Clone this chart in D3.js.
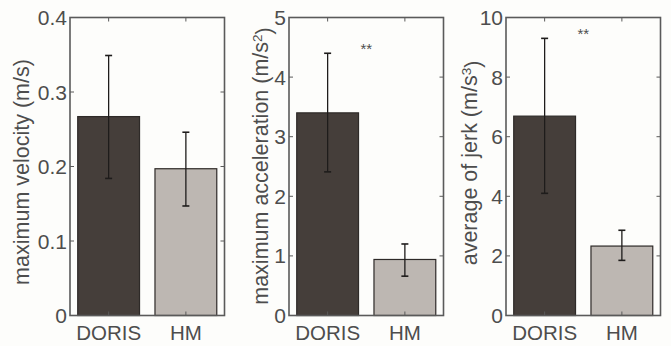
<!DOCTYPE html>
<html>
<head>
<meta charset="utf-8">
<script src="https://cdn.jsdelivr.net/npm/d3@7"></script>
<style>
  body { margin: 0; background: #fdfdfb; }
  svg { display: block; font-family: "Liberation Sans", Arial, sans-serif; }
</style>
</head>
<body>
<div id="plotdiv"></div>
<script>
// data
const groups = ["DORIS", "HM"];
const velocity = [0.267, 0.197];
const velocityErrLo = [0.184, 0.147];
const velocityErrHi = [0.349, 0.246];
const accel = [3.40, 0.94];
const accelErrLo = [2.41, 0.66];
const accelErrHi = [4.40, 1.20];
const jerk = [6.69, 2.33];
const jerkErrLo = [4.10, 1.85];
const jerkErrHi = [9.30, 2.86];
const velTicks = [0, 0.1, 0.2, 0.3, 0.4];
const accTicks = [0, 1, 2, 3, 4, 5];
const jerkTicks = [0, 2, 4, 6, 8, 10];

const barColors = ["#453e3a", "#bdb7b2"];
const axisColor = "#5a5a5a";
const textColor = "#4d4d4d";

const svg = d3.select("#plotdiv")
  .append("svg")
  .attr("width", 671)
  .attr("height", 346);

svg.append("rect").attr("width", 671).attr("height", 346).attr("fill", "#fdfdfb");

const panels = [
  {x0: 70, vals: velocity, lo: velocityErrLo, hi: velocityErrHi, ticks: velTicks, max: 0.4,
   fmt: d => d === 0 ? "0" : d3.format(".1f")(d), label: ["maximum velocity (m/s)", null, null],
   labelX: 21, labelY: 172, stars: null},
  {x0: 289, vals: accel, lo: accelErrLo, hi: accelErrHi, ticks: accTicks, max: 5,
   fmt: d => String(d), label: ["maximum acceleration (m/s", "2", ")"], labelX: 260,
   labelY: 166, stars: 46},
  {x0: 506, vals: jerk, lo: jerkErrLo, hi: jerkErrHi, ticks: jerkTicks, max: 10,
   fmt: d => String(d), label: ["average of jerk (m/s", "3", ")"], labelX: 469,
   labelY: 163, stars: 31}
];

const plotTop = 17.5, plotBottom = 315.5, pw = 154.5;

panels.forEach(p => {
  const g = svg.append("g");

  const x = d3.scaleLinear().domain([0.5, 2.5]).range([p.x0, p.x0 + pw]);
  const y = d3.scaleLinear().domain([0, p.max]).range([plotBottom, plotTop]);
  const bw = (x(1.4) - x(0.6));

  // bars
  g.selectAll(".bar")
    .data(p.vals)
    .enter()
    .append("rect")
    .attr("x", (v, i) => x(i + 1) - bw / 2)
    .attr("y", v => y(v))
    .attr("width", bw)
    .attr("height", v => plotBottom - y(v))
    .attr("fill", (v, i) => barColors[i])
    .attr("stroke", "#2e2a28")
    .attr("stroke-width", 1.2);

  // error bars
  p.vals.forEach((v, i) => {
    const cx = x(i + 1);
    g.append("line")
      .attr("x1", cx).attr("x2", cx)
      .attr("y1", y(p.lo[i])).attr("y2", y(p.hi[i]))
      .attr("stroke", "#1e1c1b").attr("stroke-width", 1.3);
    [p.lo[i], p.hi[i]].forEach(e => {
      g.append("line")
        .attr("x1", cx - 3.5).attr("x2", cx + 3.5)
        .attr("y1", y(e)).attr("y2", y(e))
        .attr("stroke", "#1e1c1b").attr("stroke-width", 1.6);
    });
  });

  // y ticks both sides, inward
  p.ticks.forEach(t => {
    g.append("line")
      .attr("x1", p.x0).attr("x2", p.x0 + 4)
      .attr("y1", y(t)).attr("y2", y(t))
      .attr("stroke", axisColor).attr("stroke-width", 1);
    g.append("line")
      .attr("x1", p.x0 + pw).attr("x2", p.x0 + pw - 4)
      .attr("y1", y(t)).attr("y2", y(t))
      .attr("stroke", axisColor).attr("stroke-width", 1);
    g.append("text")
      .attr("x", p.x0 - 3)
      .attr("y", y(t))
      .attr("dy", "0.36em")
      .attr("text-anchor", "end")
      .attr("font-size", 21)
      .attr("fill", textColor)
      .text(p.fmt(t));
  });

  // x ticks top and bottom, inward
  groups.forEach((gname, i) => {
    const cx = x(i + 1);
    g.append("line")
      .attr("x1", cx).attr("x2", cx).attr("y1", plotTop).attr("y2", plotTop + 4)
      .attr("stroke", axisColor);
    g.append("line")
      .attr("x1", cx).attr("x2", cx).attr("y1", plotBottom).attr("y2", plotBottom - 4)
      .attr("stroke", axisColor);
    g.append("text")
      .attr("x", cx)
      .attr("y", 340)
      .attr("text-anchor", "middle")
      .attr("font-size", 20.5)
      .attr("fill", textColor)
      .text(gname);
  });

  // box
  g.append("rect")
    .attr("x", p.x0).attr("y", plotTop)
    .attr("width", pw).attr("height", plotBottom - plotTop)
    .attr("fill", "none")
    .attr("stroke", axisColor)
    .attr("stroke-width", 1.6);

  // y label
  const lab = g.append("text")
    .attr("transform", "translate(" + p.labelX + "," + p.labelY + ") rotate(-90)")
    .attr("text-anchor", "middle")
    .attr("dy", "0.36em")
    .attr("font-size", 21.5)
    .attr("fill", textColor);
  lab.append("tspan").text(p.label[0]);
  if (p.label[1]) {
    lab.append("tspan").attr("dy", "-0.45em").attr("font-size", 13.5).text(p.label[1]);
    lab.append("tspan").attr("dy", "0.45em").text(p.label[2]);
  }

  if (p.stars) {
    g.append("text")
      .attr("x", x(1.5))
      .attr("y", p.stars)
      .attr("dy", "0.5em")
      .attr("text-anchor", "middle")
      .attr("font-size", 15)
      .attr("fill", textColor)
      .text("**");
  }
});
</script>
</body>
</html>
